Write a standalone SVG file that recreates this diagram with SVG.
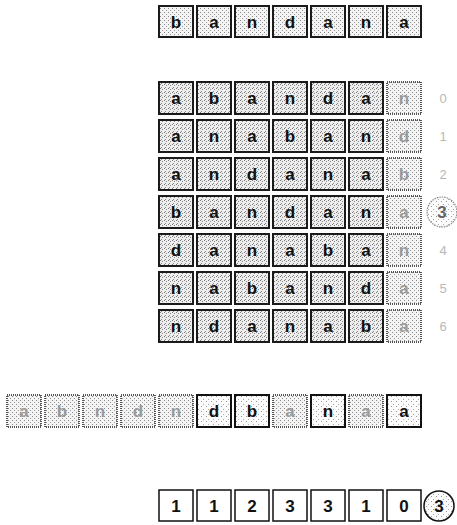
<svg xmlns="http://www.w3.org/2000/svg" width="457" height="525" viewBox="0 0 457 525">
<defs>
<pattern id="dense" width="4" height="4" patternUnits="userSpaceOnUse">
<rect width="4" height="4" fill="#eeeeee"/>
<rect x="0" y="0" width="1" height="1" fill="#777"/>
<rect x="2" y="1" width="1" height="1" fill="#888"/>
<rect x="1" y="3" width="1" height="1" fill="#888"/>
</pattern>
<pattern id="light" width="4" height="4" patternUnits="userSpaceOnUse">
<rect width="4" height="4" fill="#f4f4f4"/>
<rect x="0" y="0" width="1" height="1" fill="#888"/>
<rect x="2" y="2" width="1" height="1" fill="#999"/>
</pattern>
<pattern id="sparse" width="5" height="5" patternUnits="userSpaceOnUse">
<rect width="5" height="5" fill="#fbfbfb"/>
<rect x="1" y="1" width="1" height="1" fill="#999"/>
<rect x="3" y="4" width="1" height="1" fill="#aaa"/>
</pattern>
</defs>
<style>
.c{stroke:#1a1a1a;stroke-width:2}
.m{fill:url(#dense)}
.t{fill:url(#light)}
.f{fill:url(#light);stroke:#555;stroke-width:2;stroke-dasharray:1 1}
.b{fill:url(#sparse);stroke:#111;stroke-width:2}
.w{fill:#fff;stroke:#111;stroke-width:1.5}
text{font-family:"Liberation Sans",Arial,sans-serif;font-weight:bold;font-size:17px;text-anchor:middle}
.k{fill:#111}
.g{fill:#9a9a9a}
.n{font-weight:normal;font-size:13px;fill:#b8b8b8}
</style>
<g id="top-row">
<rect class="c t" x="159" y="6" width="34" height="31"/><text class="k" x="176" y="28">b</text>
<rect class="c t" x="197" y="6" width="34" height="31"/><text class="k" x="214" y="28">a</text>
<rect class="c t" x="235" y="6" width="34" height="31"/><text class="k" x="252" y="28">n</text>
<rect class="c t" x="273" y="6" width="34" height="31"/><text class="k" x="290" y="28">d</text>
<rect class="c t" x="311" y="6" width="34" height="31"/><text class="k" x="328" y="28">a</text>
<rect class="c t" x="349" y="6" width="34" height="31"/><text class="k" x="366" y="28">n</text>
<rect class="c t" x="387" y="6" width="34" height="31"/><text class="k" x="404" y="28">a</text>
</g>
<g id="matrix">
<g id="row0">
<rect class="c m" x="159" y="82" width="34" height="32"/><text class="k" x="176" y="104">a</text>
<rect class="c m" x="197" y="82" width="34" height="32"/><text class="k" x="214" y="104">b</text>
<rect class="c m" x="235" y="82" width="34" height="32"/><text class="k" x="252" y="104">a</text>
<rect class="c m" x="273" y="82" width="34" height="32"/><text class="k" x="290" y="104">n</text>
<rect class="c m" x="311" y="82" width="34" height="32"/><text class="k" x="328" y="104">d</text>
<rect class="c m" x="349" y="82" width="34" height="32"/><text class="k" x="366" y="104">a</text>
<rect class="f" x="387" y="82" width="34" height="32"/><text class="g" x="404" y="104">n</text>
<text class="n" x="443" y="103">0</text>
</g>
<g id="row1">
<rect class="c m" x="159" y="120" width="34" height="32"/><text class="k" x="176" y="142">a</text>
<rect class="c m" x="197" y="120" width="34" height="32"/><text class="k" x="214" y="142">n</text>
<rect class="c m" x="235" y="120" width="34" height="32"/><text class="k" x="252" y="142">a</text>
<rect class="c m" x="273" y="120" width="34" height="32"/><text class="k" x="290" y="142">b</text>
<rect class="c m" x="311" y="120" width="34" height="32"/><text class="k" x="328" y="142">a</text>
<rect class="c m" x="349" y="120" width="34" height="32"/><text class="k" x="366" y="142">n</text>
<rect class="f" x="387" y="120" width="34" height="32"/><text class="g" x="404" y="142">d</text>
<text class="n" x="443" y="141">1</text>
</g>
<g id="row2">
<rect class="c m" x="159" y="158" width="34" height="32"/><text class="k" x="176" y="180">a</text>
<rect class="c m" x="197" y="158" width="34" height="32"/><text class="k" x="214" y="180">n</text>
<rect class="c m" x="235" y="158" width="34" height="32"/><text class="k" x="252" y="180">d</text>
<rect class="c m" x="273" y="158" width="34" height="32"/><text class="k" x="290" y="180">a</text>
<rect class="c m" x="311" y="158" width="34" height="32"/><text class="k" x="328" y="180">n</text>
<rect class="c m" x="349" y="158" width="34" height="32"/><text class="k" x="366" y="180">a</text>
<rect class="f" x="387" y="158" width="34" height="32"/><text class="g" x="404" y="180">b</text>
<text class="n" x="443" y="179">2</text>
</g>
<g id="row3">
<rect class="c m" x="159" y="196" width="34" height="32"/><text class="k" x="176" y="218">b</text>
<rect class="c m" x="197" y="196" width="34" height="32"/><text class="k" x="214" y="218">a</text>
<rect class="c m" x="235" y="196" width="34" height="32"/><text class="k" x="252" y="218">n</text>
<rect class="c m" x="273" y="196" width="34" height="32"/><text class="k" x="290" y="218">d</text>
<rect class="c m" x="311" y="196" width="34" height="32"/><text class="k" x="328" y="218">a</text>
<rect class="c m" x="349" y="196" width="34" height="32"/><text class="k" x="366" y="218">n</text>
<rect class="f" x="387" y="196" width="34" height="32"/><text class="g" x="404" y="218">a</text>
<circle cx="442" cy="212" r="15" fill="url(#sparse)" stroke="#888" stroke-width="1.2" stroke-dasharray="1.5 1"/>
<text x="442" y="218" fill="#666">3</text>
</g>
<g id="row4">
<rect class="c m" x="159" y="234" width="34" height="32"/><text class="k" x="176" y="256">d</text>
<rect class="c m" x="197" y="234" width="34" height="32"/><text class="k" x="214" y="256">a</text>
<rect class="c m" x="235" y="234" width="34" height="32"/><text class="k" x="252" y="256">n</text>
<rect class="c m" x="273" y="234" width="34" height="32"/><text class="k" x="290" y="256">a</text>
<rect class="c m" x="311" y="234" width="34" height="32"/><text class="k" x="328" y="256">b</text>
<rect class="c m" x="349" y="234" width="34" height="32"/><text class="k" x="366" y="256">a</text>
<rect class="f" x="387" y="234" width="34" height="32"/><text class="g" x="404" y="256">n</text>
<text class="n" x="443" y="255">4</text>
</g>
<g id="row5">
<rect class="c m" x="159" y="272" width="34" height="32"/><text class="k" x="176" y="294">n</text>
<rect class="c m" x="197" y="272" width="34" height="32"/><text class="k" x="214" y="294">a</text>
<rect class="c m" x="235" y="272" width="34" height="32"/><text class="k" x="252" y="294">b</text>
<rect class="c m" x="273" y="272" width="34" height="32"/><text class="k" x="290" y="294">a</text>
<rect class="c m" x="311" y="272" width="34" height="32"/><text class="k" x="328" y="294">n</text>
<rect class="c m" x="349" y="272" width="34" height="32"/><text class="k" x="366" y="294">d</text>
<rect class="f" x="387" y="272" width="34" height="32"/><text class="g" x="404" y="294">a</text>
<text class="n" x="443" y="293">5</text>
</g>
<g id="row6">
<rect class="c m" x="159" y="310" width="34" height="32"/><text class="k" x="176" y="332">n</text>
<rect class="c m" x="197" y="310" width="34" height="32"/><text class="k" x="214" y="332">d</text>
<rect class="c m" x="235" y="310" width="34" height="32"/><text class="k" x="252" y="332">a</text>
<rect class="c m" x="273" y="310" width="34" height="32"/><text class="k" x="290" y="332">n</text>
<rect class="c m" x="311" y="310" width="34" height="32"/><text class="k" x="328" y="332">a</text>
<rect class="c m" x="349" y="310" width="34" height="32"/><text class="k" x="366" y="332">b</text>
<rect class="f" x="387" y="310" width="34" height="32"/><text class="g" x="404" y="332">a</text>
<text class="n" x="443" y="331">6</text>
</g>
</g>
<g id="merged-row">
<rect class="f" x="7" y="395" width="34" height="32"/><text class="g" x="24" y="417">a</text>
<rect class="f" x="45" y="395" width="34" height="32"/><text class="g" x="62" y="417">b</text>
<rect class="f" x="83" y="395" width="34" height="32"/><text class="g" x="100" y="417">n</text>
<rect class="f" x="121" y="395" width="34" height="32"/><text class="g" x="138" y="417">d</text>
<rect class="f" x="159" y="395" width="34" height="32"/><text class="g" x="176" y="417">n</text>
<rect class="b" x="197" y="395" width="34" height="32"/><text class="k" x="214" y="417">d</text>
<rect class="b" x="235" y="395" width="34" height="32"/><text class="k" x="252" y="417">b</text>
<rect class="f" x="273" y="395" width="34" height="32"/><text class="g" x="290" y="417">a</text>
<rect class="b" x="311" y="395" width="34" height="32"/><text class="k" x="328" y="417">n</text>
<rect class="f" x="349" y="395" width="34" height="32"/><text class="g" x="366" y="417">a</text>
<rect class="b" x="387" y="395" width="34" height="32"/><text class="k" x="404" y="417">a</text>
</g>
<g id="result-row">
<rect class="w" x="159" y="490" width="34" height="31"/><text class="k" x="176" y="512">1</text>
<rect class="w" x="197" y="490" width="34" height="31"/><text class="k" x="214" y="512">1</text>
<rect class="w" x="235" y="490" width="34" height="31"/><text class="k" x="252" y="512">2</text>
<rect class="w" x="273" y="490" width="34" height="31"/><text class="k" x="290" y="512">3</text>
<rect class="w" x="311" y="490" width="34" height="31"/><text class="k" x="328" y="512">3</text>
<rect class="w" x="349" y="490" width="34" height="31"/><text class="k" x="366" y="512">1</text>
<rect class="w" x="387" y="490" width="34" height="31"/><text class="k" x="404" y="512">0</text>
<circle cx="439" cy="506" r="15" fill="url(#sparse)" stroke="#111" stroke-width="1.5"/>
<text class="k" x="439" y="512">3</text>
</g>
<g id="connectors"/>
</svg>
